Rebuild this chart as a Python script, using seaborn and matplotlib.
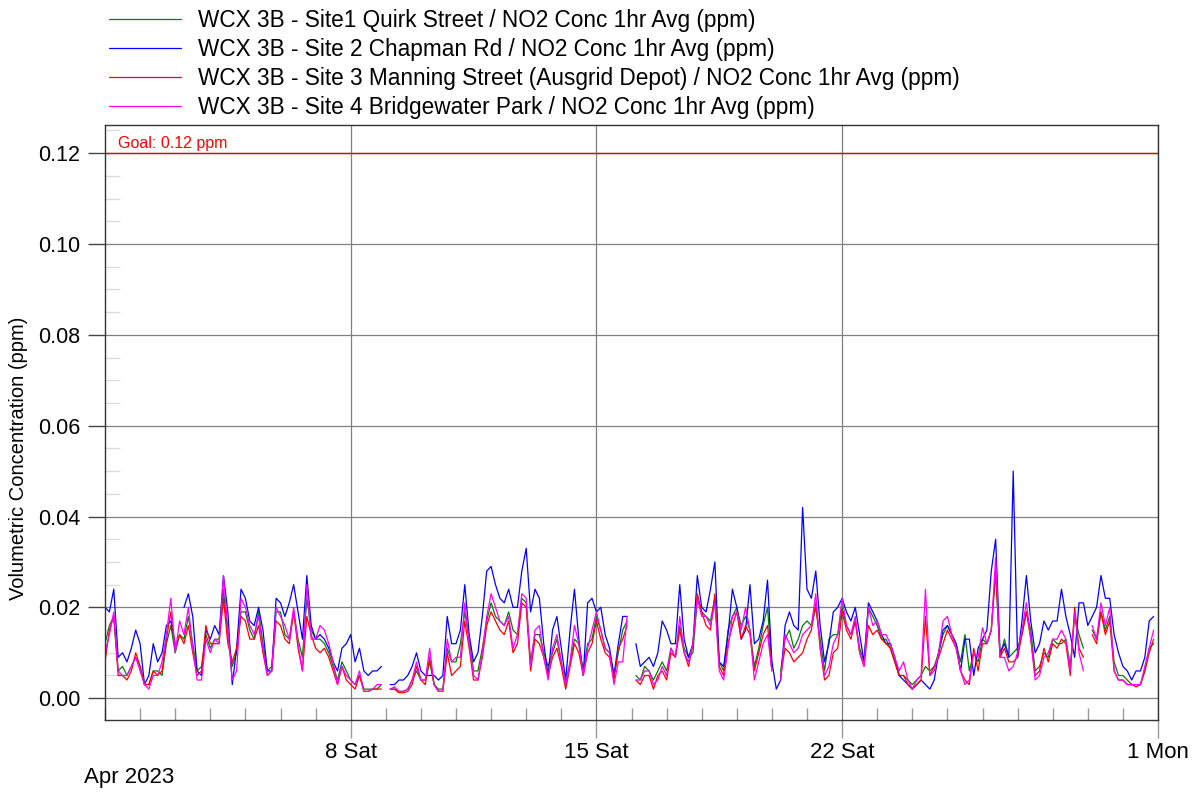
import numpy as np
import pandas as pd
import seaborn as sns
import matplotlib.pyplot as plt
import matplotlib.dates as mdates
from matplotlib.ticker import MultipleLocator, FormatStrFormatter

nan = np.nan

# 3-hourly readings, 1 Apr 2023 00:00 .. 30 Apr 21:00 (8 values per day)
site1 = [
    0.012, 0.016, 0.018, 0.006, 0.007, 0.005, 0.007, 0.009,
    0.007, 0.003, 0.003, 0.006, 0.006, 0.005, 0.012, 0.016,
    0.010, 0.014, 0.013, 0.018, 0.012, 0.006, 0.007, 0.014,
    0.011, 0.013, 0.013, 0.024, 0.014, 0.007, 0.010, 0.019,
    0.019, 0.015, 0.013, 0.019, 0.012, 0.006, 0.007, 0.019,
    0.019, 0.014, 0.013, 0.019, 0.013, 0.009, 0.022, 0.015,
    0.013, 0.013, 0.012, 0.010, 0.007, 0.004, 0.008, 0.006,
    0.004, 0.003, 0.005, 0.002, 0.002, 0.002, 0.002, 0.003,
    nan, 0.002, 0.002, 0.0015, 0.0015, 0.002, 0.004, 0.006,
    0.004, 0.004, 0.008, 0.003, 0.002, 0.002, 0.011, 0.008,
    0.008, 0.012, 0.019, 0.013, 0.006, 0.006, 0.011, 0.017,
    0.021, 0.018, 0.017, 0.016, 0.019, 0.015, 0.014, 0.022,
    0.021, 0.008, 0.014, 0.014, 0.010, 0.007, 0.010, 0.013,
    0.008, 0.003, 0.008, 0.013, 0.012, 0.006, 0.012, 0.013,
    0.018, 0.015, 0.011, 0.010, 0.005, 0.010, 0.015, 0.017,
    nan, 0.005, 0.004, 0.007, 0.006, 0.004, 0.006, 0.008,
    0.006, 0.011, 0.009, 0.016, 0.011, 0.009, 0.010, 0.022,
    0.019, 0.018, 0.017, 0.022, 0.008, 0.006, 0.015, 0.018,
    0.020, 0.016, 0.018, 0.015, 0.007, 0.011, 0.016, 0.020,
    0.007, nan, 0.006, 0.013, 0.015, 0.011, 0.013, 0.016,
    0.017, 0.016, 0.020, 0.013, 0.006, 0.013, 0.014, 0.014,
    0.020, 0.016, 0.014, 0.017, 0.011, 0.008, 0.020, 0.018,
    0.016, 0.013, 0.013, 0.011, 0.008, 0.005, 0.005, 0.004,
    0.003, 0.004, 0.005, 0.007, 0.006, 0.007, 0.010, 0.014,
    0.016, 0.014, 0.012, 0.008, 0.014, 0.006, 0.010, 0.008,
    0.013, 0.012, 0.015, 0.028, 0.009, 0.013, 0.009, 0.010,
    0.011, 0.014, 0.019, 0.015, 0.006, 0.007, 0.010, 0.009,
    0.013, 0.012, 0.012, 0.013, 0.007, 0.018, 0.014, 0.011,
    nan, 0.015, 0.013, 0.019, 0.015, 0.018, 0.008, 0.005,
    0.005, 0.004, 0.003, 0.003, 0.003, 0.006, 0.011, 0.012,
]
site2 = [
    0.020, 0.019, 0.024, 0.009, 0.010, 0.008, 0.011, 0.015,
    0.012, 0.003, 0.005, 0.012, 0.008, 0.010, 0.016, 0.017,
    0.012, nan, 0.020, 0.023, 0.018, 0.006, 0.005, 0.015,
    0.013, 0.016, 0.014, 0.027, 0.019, 0.003, 0.011, 0.024,
    0.022, 0.017, 0.016, 0.020, 0.015, 0.006, 0.006, 0.022,
    0.021, 0.018, 0.021, 0.025, 0.019, 0.013, 0.027, 0.016,
    0.013, 0.014, 0.013, 0.011, 0.008, 0.006, 0.011, 0.012,
    0.014, 0.008, 0.011, 0.006, 0.005, 0.006, 0.006, 0.007,
    nan, 0.003, 0.003, 0.004, 0.004, 0.005, 0.007, 0.010,
    0.006, 0.005, 0.005, 0.005, 0.004, 0.005, 0.018, 0.012,
    0.012, 0.015, 0.025, 0.014, 0.008, 0.010, 0.018, 0.028,
    0.029, 0.025, 0.022, 0.021, 0.024, 0.020, 0.020, 0.028,
    0.033, 0.019, 0.024, 0.022, 0.012, 0.005, 0.015, 0.018,
    0.011, 0.004, 0.015, 0.024, 0.013, 0.005, 0.021, 0.022,
    0.019, 0.020, 0.014, 0.011, 0.005, 0.012, 0.018, 0.018,
    nan, 0.012, 0.007, 0.008, 0.009, 0.007, 0.010, 0.017,
    0.015, 0.012, 0.012, 0.025, 0.013, 0.009, 0.012, 0.027,
    0.020, 0.019, 0.024, 0.030, 0.008, 0.007, 0.014, 0.024,
    0.020, 0.013, 0.015, 0.025, 0.012, 0.013, 0.017, 0.026,
    0.008, 0.002, 0.004, 0.016, 0.019, 0.016, 0.015, 0.042,
    0.024, 0.022, 0.028, 0.016, 0.008, 0.012, 0.019, 0.020,
    0.022, 0.019, 0.017, 0.020, 0.014, 0.008, 0.021, 0.019,
    0.017, 0.014, 0.012, 0.012, 0.009, 0.005, 0.004, 0.003,
    0.002, 0.003, 0.004, 0.003, 0.002, 0.004, 0.010, 0.015,
    0.016, 0.014, 0.012, 0.006, 0.013, 0.013, 0.005, 0.011,
    0.013, 0.015, 0.028, 0.035, 0.010, 0.012, 0.009, 0.050,
    0.009, 0.017, 0.027, 0.017, 0.010, 0.012, 0.017, 0.015,
    0.017, 0.017, 0.024, 0.018, 0.014, 0.009, 0.021, 0.021,
    0.016, 0.018, 0.020, 0.027, 0.022, 0.022, 0.014, 0.010,
    0.007, 0.006, 0.004, 0.006, 0.006, 0.009, 0.017, 0.018,
]
site3 = [
    0.008, 0.015, 0.018, 0.005, 0.005, 0.004, 0.006, 0.010,
    0.007, 0.003, 0.003, 0.006, 0.005, 0.006, 0.013, 0.019,
    0.011, 0.014, 0.012, 0.016, 0.010, 0.005, 0.006, 0.016,
    0.012, 0.012, 0.012, 0.022, 0.012, 0.008, 0.011, 0.018,
    0.017, 0.013, 0.013, 0.016, 0.010, 0.005, 0.006, 0.017,
    0.016, 0.013, 0.012, 0.019, 0.011, 0.006, 0.018, 0.014,
    0.011, 0.010, 0.011, 0.009, 0.006, 0.003, 0.007, 0.004,
    0.003, 0.002, 0.005, 0.0015, 0.0015, 0.002, 0.002, 0.002,
    nan, 0.002, 0.002, 0.0012, 0.0012, 0.0015, 0.003, 0.007,
    0.004, 0.003, 0.009, 0.003, 0.0015, 0.0015, 0.010, 0.005,
    0.006, 0.007, 0.017, 0.011, 0.004, 0.004, 0.009, 0.016,
    0.019, 0.017, 0.015, 0.014, 0.017, 0.010, 0.012, 0.021,
    0.020, 0.006, 0.013, 0.012, 0.009, 0.005, 0.009, 0.011,
    0.007, 0.002, 0.007, 0.012, 0.010, 0.005, 0.010, 0.012,
    0.017, 0.013, 0.010, 0.009, 0.004, 0.011, 0.013, 0.016,
    nan, 0.004, 0.003, 0.005, 0.005, 0.002, 0.005, 0.006,
    0.004, 0.010, 0.009, 0.015, 0.010, 0.007, 0.012, 0.023,
    0.019, 0.016, 0.015, 0.023, 0.007, 0.005, 0.012, 0.016,
    0.019, 0.013, 0.016, 0.014, 0.006, 0.010, 0.014, 0.016,
    0.006, nan, 0.005, 0.011, 0.010, 0.008, 0.009, 0.010,
    0.013, 0.015, 0.021, 0.011, 0.004, 0.005, 0.010, 0.011,
    0.019, 0.015, 0.013, 0.017, 0.010, 0.007, 0.016, 0.014,
    0.015, 0.013, 0.012, 0.011, 0.008, 0.005, 0.005, 0.003,
    0.002, 0.003, 0.004, 0.018, 0.005, 0.007, 0.009, 0.012,
    0.015, 0.013, 0.011, 0.006, 0.004, 0.003, 0.011, 0.006,
    0.012, 0.012, 0.015, 0.028, 0.009, 0.011, 0.008, 0.008,
    0.009, 0.014, 0.019, 0.013, 0.005, 0.006, 0.011, 0.008,
    0.012, 0.011, 0.013, 0.012, 0.005, 0.020, 0.011, 0.009,
    nan, 0.014, 0.012, 0.019, 0.014, 0.017, 0.006, 0.004,
    0.004, 0.003, 0.003, 0.0025, 0.003, 0.006, 0.010, 0.013,
]
site4 = [
    0.010, 0.014, 0.019, 0.006, 0.005, 0.005, 0.007, 0.009,
    0.006, 0.003, 0.002, 0.005, 0.005, 0.008, 0.014, 0.022,
    0.010, 0.017, 0.014, 0.020, 0.011, 0.004, 0.004, 0.013,
    0.010, 0.013, 0.012, 0.027, 0.015, 0.004, 0.006, 0.022,
    0.020, 0.016, 0.014, 0.018, 0.011, 0.005, 0.006, 0.020,
    0.018, 0.016, 0.013, 0.020, 0.012, 0.006, 0.025, 0.013,
    0.013, 0.016, 0.015, 0.012, 0.008, 0.003, 0.007, 0.005,
    0.004, 0.003, 0.006, 0.0015, 0.0015, 0.002, 0.003, 0.003,
    nan, 0.002, 0.0025, 0.0015, 0.0015, 0.002, 0.004, 0.008,
    0.004, 0.004, 0.011, 0.003, 0.0015, 0.0015, 0.013, 0.008,
    0.009, 0.009, 0.021, 0.012, 0.005, 0.004, 0.010, 0.018,
    0.023, 0.020, 0.017, 0.016, 0.018, 0.011, 0.014, 0.023,
    0.022, 0.007, 0.015, 0.016, 0.009, 0.004, 0.011, 0.014,
    0.008, 0.003, 0.008, 0.016, 0.012, 0.005, 0.011, 0.015,
    0.019, 0.015, 0.011, 0.010, 0.003, 0.008, 0.008, 0.018,
    nan, 0.004, 0.004, 0.006, 0.006, 0.003, 0.004, 0.007,
    0.005, 0.011, 0.009, 0.018, 0.010, 0.008, 0.012, 0.022,
    0.018, 0.018, 0.016, 0.021, 0.006, 0.004, 0.011, 0.018,
    0.019, 0.015, 0.020, 0.015, 0.004, 0.008, 0.012, 0.014,
    0.006, nan, 0.004, 0.014, 0.012, 0.010, 0.011, 0.014,
    0.015, 0.016, 0.023, 0.011, 0.005, 0.007, 0.012, 0.014,
    0.022, 0.016, 0.014, 0.018, 0.010, 0.007, 0.020, 0.016,
    0.017, 0.014, 0.014, 0.012, 0.009, 0.006, 0.008, 0.004,
    0.002, 0.004, 0.005, 0.024, 0.005, 0.006, 0.010, 0.017,
    0.018, 0.014, 0.011, 0.006, 0.003, 0.004, 0.010, 0.009,
    0.0155, 0.012, 0.015, 0.031, 0.009, 0.009, 0.006, 0.007,
    0.010, 0.015, 0.021, 0.013, 0.004, 0.005, 0.009, 0.010,
    0.013, 0.013, 0.015, 0.013, 0.006, 0.019, 0.010, 0.006,
    nan, 0.016, 0.013, 0.021, 0.016, 0.020, 0.006, 0.004,
    0.004, 0.003, 0.003, 0.003, 0.003, 0.007, 0.011, 0.015,
]

names = [
    "WCX 3B - Site1 Quirk Street / NO2 Conc 1hr Avg (ppm)",
    "WCX 3B - Site 2 Chapman Rd / NO2 Conc 1hr Avg (ppm)",
    "WCX 3B - Site 3 Manning Street (Ausgrid Depot) / NO2 Conc 1hr Avg (ppm)",
    "WCX 3B - Site 4 Bridgewater Park / NO2 Conc 1hr Avg (ppm)",
]
colors = ["#008000", "#0000ff", "#ff0000", "#ff00ff"]
goal = 0.12
week_days = ["2023-04-08", "2023-04-15", "2023-04-22", "2023-05-01"]
week_labels = ["8 Sat", "15 Sat", "22 Sat", "1 Mon"]

times = pd.date_range("2023-04-01", periods=len(site1), freq="3h")
frames = []
for name, vals in zip(names, [site1, site2, site3, site4]):
    s = pd.Series(vals)
    # split at missing values so gaps stay open
    seg = s.isna().cumsum()
    frames.append(pd.DataFrame({"time": times, "ppm": s, "site": name,
                                "unit": name + "|" + seg.astype(str)}))
df = pd.concat(frames, ignore_index=True)

sns.set_style("white")
plt.rcParams["font.family"] = ["Liberation Sans", "DejaVu Sans"]
plt.rcParams["text.color"] = "black"

fig = plt.figure(figsize=(11.99, 7.93), dpi=100)
ax = fig.add_axes([105 / 1199, 73 / 793, 1053 / 1199, 595 / 793])

sns.lineplot(data=df, x="time", y="ppm", hue="site", hue_order=names,
             units="unit", estimator=None, palette=colors, lw=0.9, ax=ax)

ax.axhline(goal, color="#e00000", lw=1.0, zorder=1)
ax.text(13 / 1053, goal + 0.0011, "Goal: 0.12 ppm", color="#ff0000",
        fontsize=11.5, transform=ax.get_yaxis_transform(), va="baseline")

ax.set_xlim(pd.Timestamp("2023-04-01"), pd.Timestamp("2023-05-01"))
ax.set_ylim(-0.0048, 0.1262)
ax.set_yticks(np.arange(0, 0.121, 0.02))
ax.yaxis.set_major_formatter(FormatStrFormatter("%.2f"))
ax.yaxis.set_minor_locator(MultipleLocator(0.005))
ax.set_xticks(pd.to_datetime(week_days))
ax.set_xticklabels(week_labels)
ax.xaxis.set_minor_locator(mdates.DayLocator())

ax.grid(which="major", color="#808080", lw=0.9)
ax.tick_params(which="both", bottom=True, left=True, top=False, right=False)
ax.tick_params(axis="x", which="major", direction="out", length=13, width=1,
               color="#999999", labelsize=16, pad=3, labelcolor="black")
ax.tick_params(axis="x", which="minor", direction="in", length=9, width=1,
               color="#999999")
ax.tick_params(axis="y", which="major", direction="out", length=12, width=1,
               color="#444444", labelsize=15.5, pad=6, labelcolor="black")
ax.tick_params(axis="y", which="minor", direction="in", length=11, width=1,
               color="#dddddd")
for sp in ax.spines.values():
    sp.set_color("#333333")
    sp.set_linewidth(1.0)

ax.set_xlabel("")
ax.set_ylabel("Volumetric Concentration (ppm)", fontsize=14.5, color="black")
ax.yaxis.set_label_coords(-0.073, 0.439)

fig.text(84 / 1199, 1 - 777 / 793, "Apr 2023", fontsize=16, va="center",
         ha="left")

handles, labels = ax.get_legend_handles_labels()
leg = ax.legend(handles, labels, loc="upper left",
                bbox_to_anchor=(102 / 1199, 1 - 2 / 793),
                bbox_transform=fig.transFigure, frameon=False, fontsize=16.3,
                handlelength=3.2, handletextpad=0.75, labelspacing=0.27,
                borderpad=0.3, borderaxespad=0)
for t in leg.get_texts():
    t.set_color("black")

fig.savefig("out.png", dpi=100)
